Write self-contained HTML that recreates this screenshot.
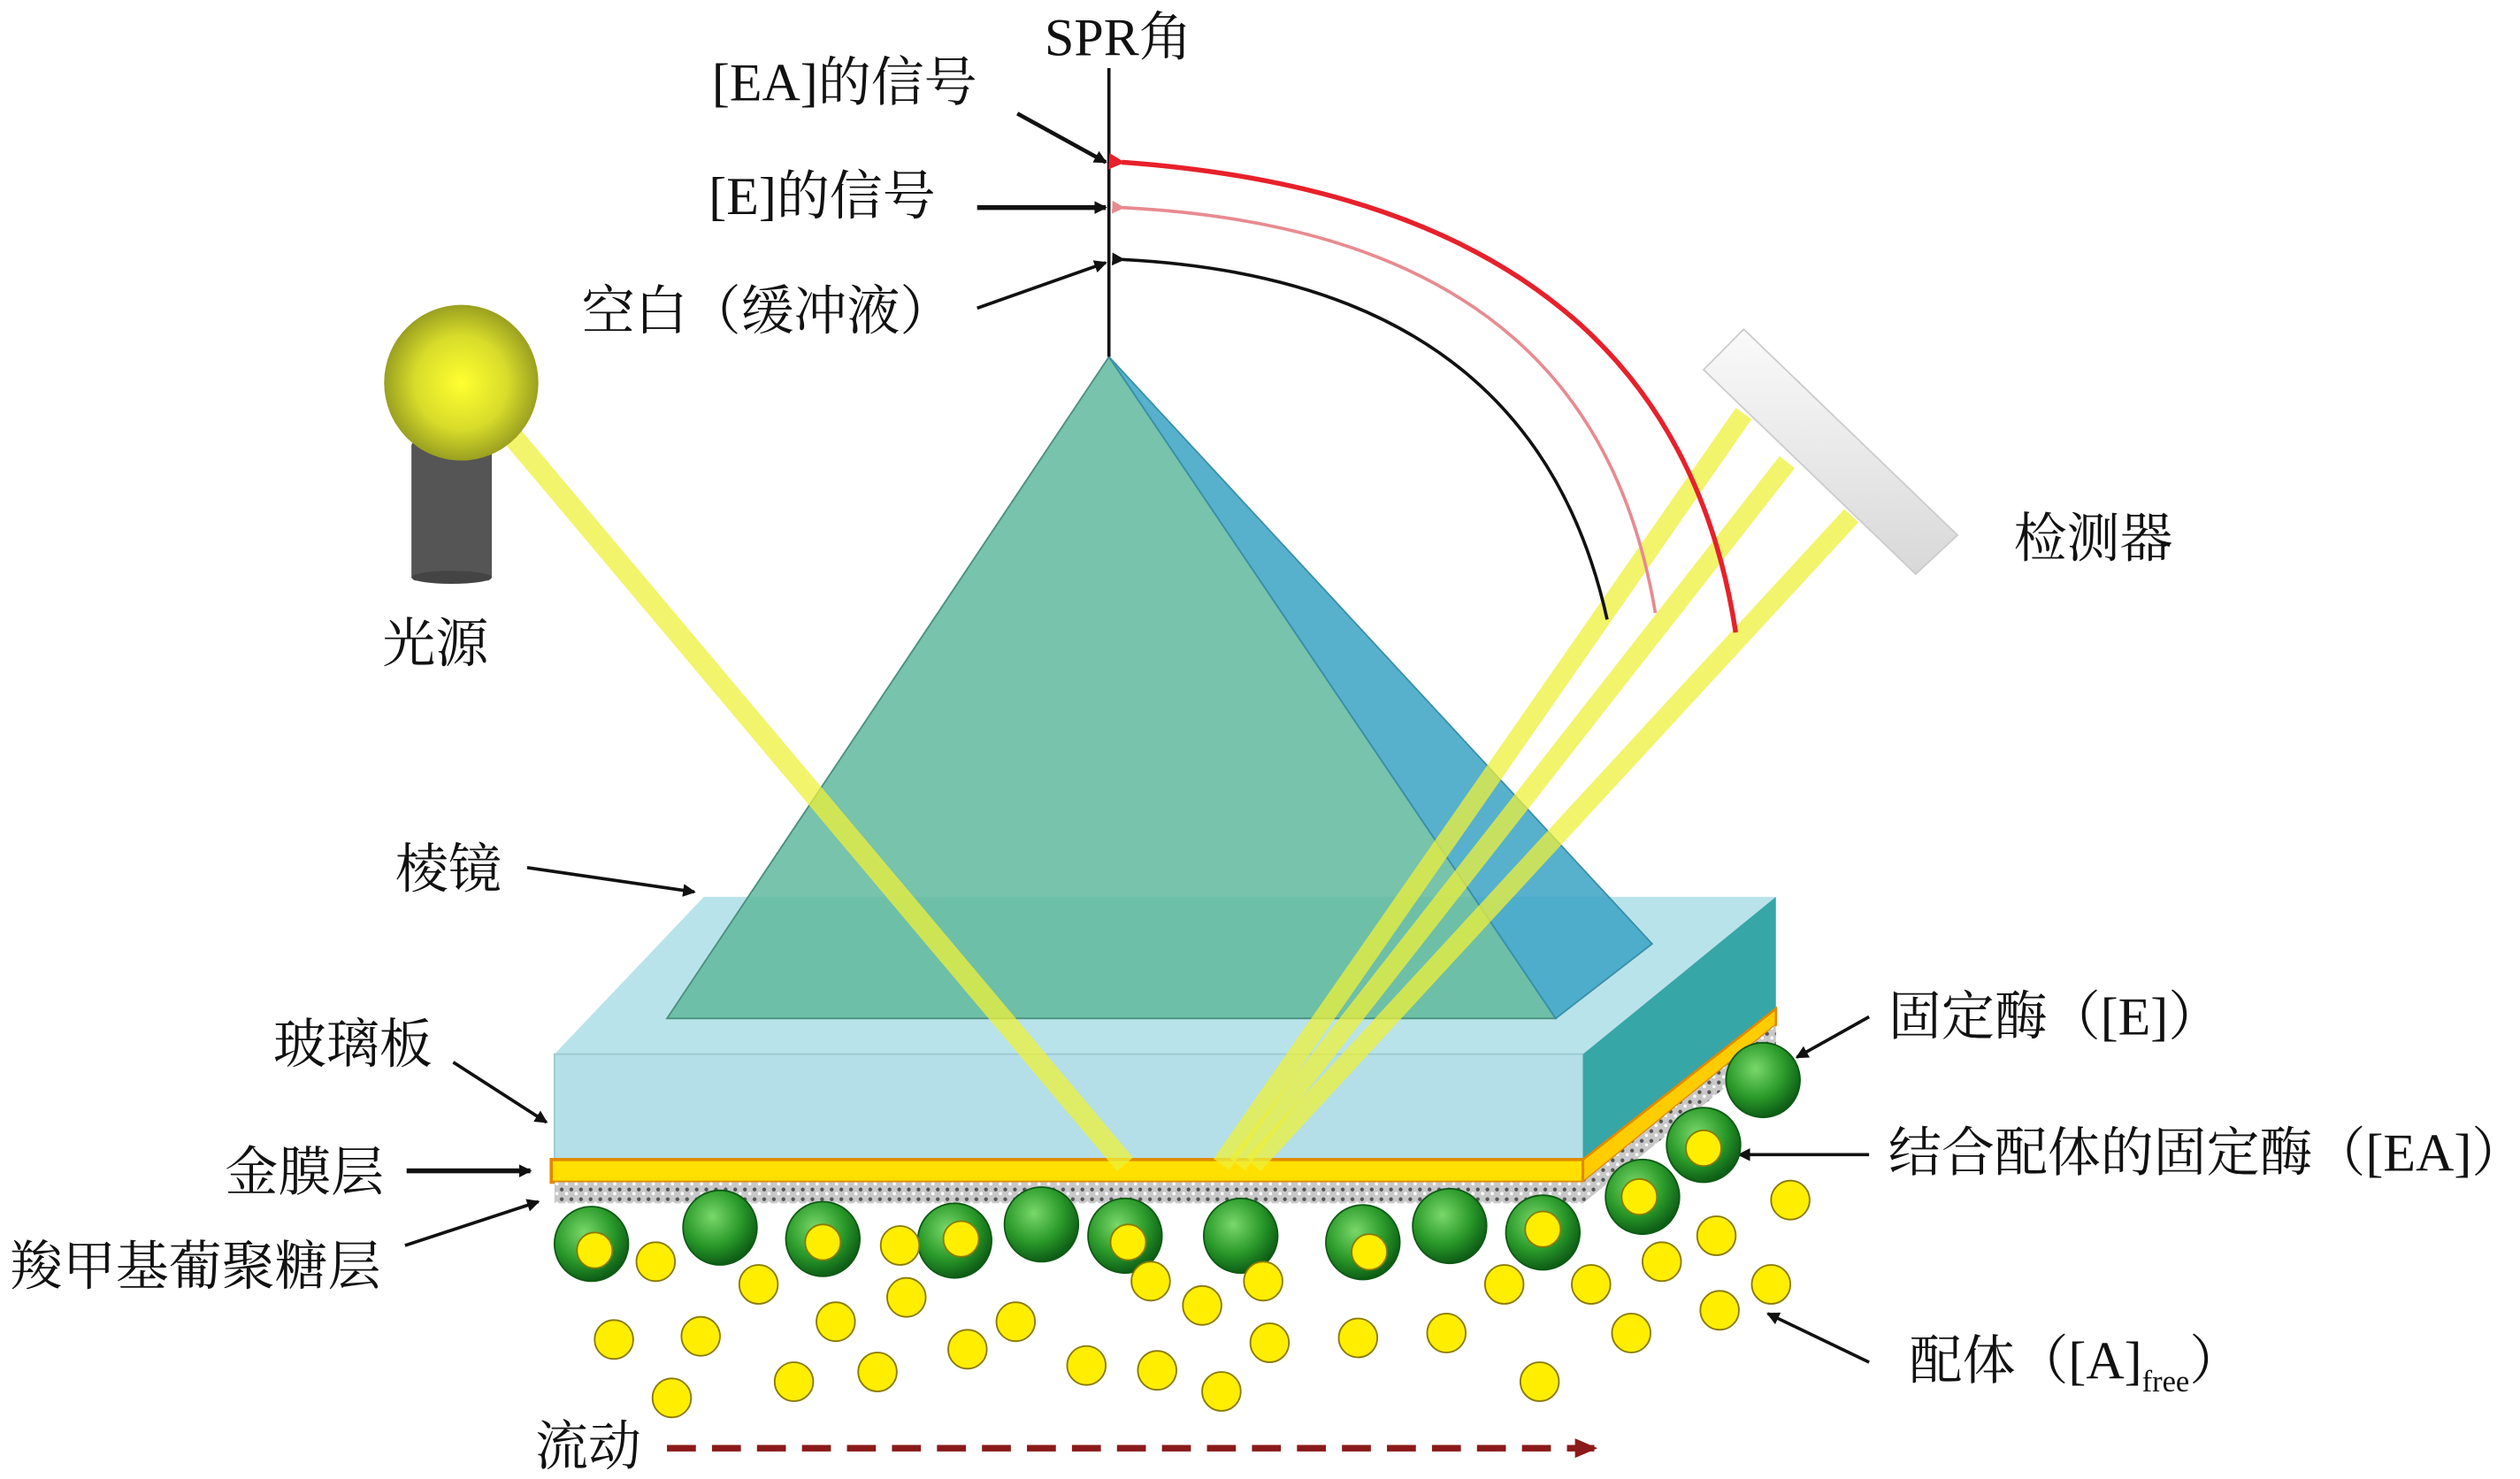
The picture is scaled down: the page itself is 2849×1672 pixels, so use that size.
<!DOCTYPE html>
<html><head><meta charset="utf-8">
<style>
html,body{margin:0;padding:0;background:#fff;}
svg{display:block;}
text{font-family:"Liberation Serif","Noto Serif CJK SC","Noto Sans CJK SC",serif;fill:#111;}
</style></head>
<body>
<svg width="2849" height="1672" viewBox="0 0 1568 912" preserveAspectRatio="none" xmlns="http://www.w3.org/2000/svg">
<defs>
<radialGradient id="bulb" cx="50%" cy="50%" r="50%">
<stop offset="0" stop-color="#ffff30"/><stop offset="0.6" stop-color="#d8dc2a"/><stop offset="1" stop-color="#9aa020"/>
</radialGradient>
<radialGradient id="gs" cx="40%" cy="35%" r="65%">
<stop offset="0" stop-color="#7ad86a"/><stop offset="0.6" stop-color="#2a9a2a"/><stop offset="1" stop-color="#0e5e16"/>
</radialGradient>
<linearGradient id="det" x1="0" y1="0" x2="0" y2="1">
<stop offset="0" stop-color="#fafafa"/><stop offset="1" stop-color="#d8d8d8"/>
</linearGradient>
<pattern id="speck" width="6" height="6" patternUnits="userSpaceOnUse">
<rect width="6" height="6" fill="#c8c8c8"/><circle cx="1.5" cy="1.5" r="1.2" fill="#555"/><circle cx="4.5" cy="4" r="1" fill="#fff"/>
</pattern>
<marker id="ah" markerWidth="8" markerHeight="8" refX="7" refY="4" orient="auto" markerUnits="userSpaceOnUse"><path d="M0,0 L8,4 L0,8 z" fill="#111"/></marker>
<marker id="ahr" markerWidth="10" markerHeight="10" refX="2" refY="5" orient="auto" markerUnits="userSpaceOnUse"><path d="M10,0 L0,5 L10,10 z" fill="#e8202a"/></marker>
<marker id="ahp" markerWidth="8" markerHeight="8" refX="2" refY="4" orient="auto" markerUnits="userSpaceOnUse"><path d="M8,0 L0,4 L8,8 z" fill="#e88a90"/></marker>
<marker id="ahk" markerWidth="8" markerHeight="8" refX="2" refY="4" orient="auto" markerUnits="userSpaceOnUse"><path d="M8,0 L0,4 L8,8 z" fill="#111"/></marker>
<marker id="ahd" markerWidth="14" markerHeight="12" refX="12" refY="6" orient="auto" markerUnits="userSpaceOnUse"><path d="M0,0 L14,6 L0,12 z" fill="#8b1a1a"/></marker>
</defs>

<polygon points="345,650 438,553 1105,553 985,650" fill="#b9e3ea"/>
<rect x="345" y="650" width="640" height="65" fill="#b4dfe8" stroke="#9cc9d2" stroke-width="1"/>
<polygon points="985,650 1105,553 1105,622 985,715" fill="#36a6a6"/>
<rect x="343" y="715" width="642" height="14" fill="#ffe000" stroke="#e08a00" stroke-width="2"/>
<polygon points="985,715 1105,622 1105,632 985,729" fill="#ffcc00" stroke="#e08a00" stroke-width="1.5"/>
<rect x="345" y="729" width="640" height="13" fill="url(#speck)"/>
<polygon points="985,729 1105,632 1105,645 985,742" fill="url(#speck)"/>

<polygon points="690,220 415,628 968,628" fill="#5fb99c" fill-opacity="0.85" stroke="#4a8f80" stroke-width="1"/>
<polygon points="690,220 1028,582 968,628" fill="#3aa3c4" fill-opacity="0.85" stroke="#3a8fa8" stroke-width="1"/>

<line x1="318" y1="268" x2="700" y2="718" stroke="#eef03a" stroke-width="13" stroke-opacity="0.75"/>
<line x1="760" y1="718" x2="1085" y2="255" stroke="#eef03a" stroke-width="12" stroke-opacity="0.75"/>
<line x1="770" y1="718" x2="1112" y2="285" stroke="#eef03a" stroke-width="12" stroke-opacity="0.75"/>
<line x1="780" y1="718" x2="1152" y2="318" stroke="#eef03a" stroke-width="12" stroke-opacity="0.75"/>

<polygon points="1060,228 1085,203 1218,330 1192,354" fill="url(#det)" stroke="#ccc" stroke-width="1"/>

<rect x="256" y="272" width="50" height="86" rx="3" fill="#555"/>
<ellipse cx="281" cy="356" rx="25" ry="4" fill="#444"/>
<circle cx="287" cy="236" r="48" fill="url(#bulb)"/>

<line x1="690" y1="42" x2="690" y2="220" stroke="#111" stroke-width="2"/>
<text x="650" y="34" font-size="33">SPR角</text>

<path d="M1080,390 C1060,260 980,120 698,100" fill="none" stroke="#e8202a" stroke-width="3" marker-end="url(#ahr)"/>
<path d="M1030,378 C1010,260 940,140 698,128" fill="none" stroke="#e88a90" stroke-width="2" marker-end="url(#ahp)"/>
<path d="M1000,382 C975,270 900,170 698,160" fill="none" stroke="#111" stroke-width="2" marker-end="url(#ahk)"/>

<text x="443" y="62" font-size="33">[EA]的信号</text>
<line x1="633" y1="70" x2="688" y2="100" stroke="#111" stroke-width="2.5" marker-end="url(#ah)"/>
<text x="441" y="132" font-size="33">[E]的信号</text>
<line x1="608" y1="128" x2="688" y2="128" stroke="#111" stroke-width="3" marker-end="url(#ah)"/>
<text x="362" y="203" font-size="33">空白（缓冲液）</text>
<line x1="608" y1="190" x2="688" y2="162" stroke="#111" stroke-width="2" marker-end="url(#ah)"/>

<text x="238" y="408" font-size="33">光源</text>
<text x="1253" y="343" font-size="33">检测器</text>
<text x="246" y="547" font-size="33">棱镜</text>
<line x1="328" y1="535" x2="432" y2="550" stroke="#111" stroke-width="2" marker-end="url(#ah)"/>
<text x="170" y="655" font-size="33">玻璃板</text>
<line x1="282" y1="655" x2="340" y2="692" stroke="#111" stroke-width="2" marker-end="url(#ah)"/>
<text x="140" y="734" font-size="33">金膜层</text>
<line x1="253" y1="722" x2="330" y2="722" stroke="#111" stroke-width="3" marker-end="url(#ah)"/>
<text x="6" y="792" font-size="33">羧甲基葡聚糖层</text>
<line x1="252" y1="768" x2="335" y2="741" stroke="#111" stroke-width="2" marker-end="url(#ah)"/>

<text x="1175" y="638" font-size="33">固定酶（[E]）</text>
<line x1="1163" y1="627" x2="1118" y2="652" stroke="#111" stroke-width="2" marker-end="url(#ah)"/>
<text x="1175" y="722" font-size="33">结合配体的固定酶（[EA]）</text>
<line x1="1163" y1="712" x2="1082" y2="712" stroke="#111" stroke-width="2" marker-end="url(#ah)"/>
<text x="1188" y="850" font-size="33">配体（[A]<tspan font-size="19" dy="8">free</tspan><tspan dy="-8">）</tspan></text>
<line x1="1163" y1="840" x2="1100" y2="810" stroke="#111" stroke-width="2" marker-end="url(#ah)"/>

<text x="333" y="903" font-size="33">流动</text>
<line x1="415" y1="893" x2="992" y2="893" stroke="#8b1a1a" stroke-width="4" stroke-dasharray="18,10" marker-end="url(#ahd)"/>

<g stroke="#0d5a14" stroke-width="1">
<circle cx="368" cy="767" r="23" fill="url(#gs)"/>
<circle cx="448" cy="757" r="23" fill="url(#gs)"/>
<circle cx="512" cy="764" r="23" fill="url(#gs)"/>
<circle cx="594" cy="765" r="23" fill="url(#gs)"/>
<circle cx="648" cy="755" r="23" fill="url(#gs)"/>
<circle cx="700" cy="762" r="23" fill="url(#gs)"/>
<circle cx="772" cy="762" r="23" fill="url(#gs)"/>
<circle cx="848" cy="766" r="23" fill="url(#gs)"/>
<circle cx="902" cy="756" r="23" fill="url(#gs)"/>
<circle cx="960" cy="760" r="23" fill="url(#gs)"/>
<circle cx="1022" cy="738" r="23" fill="url(#gs)"/>
<circle cx="1060" cy="706" r="23" fill="url(#gs)"/>
<circle cx="1097" cy="666" r="23" fill="url(#gs)"/>
</g>
<g fill="#ffee00" stroke="#8a7a00" stroke-width="1">
<circle cx="370" cy="771" r="11"/><circle cx="512" cy="766" r="11"/><circle cx="598" cy="764" r="11"/>
<circle cx="702" cy="766" r="11"/><circle cx="852" cy="772" r="11"/><circle cx="960" cy="758" r="11"/>
<circle cx="1020" cy="738" r="11"/><circle cx="1060" cy="708" r="11"/>
<circle cx="408" cy="778" r="12"/><circle cx="472" cy="792" r="12"/><circle cx="560" cy="768" r="12"/>
<circle cx="382" cy="826" r="12"/><circle cx="436" cy="824" r="12"/><circle cx="520" cy="815" r="12"/>
<circle cx="564" cy="800" r="12"/><circle cx="546" cy="846" r="12"/><circle cx="494" cy="852" r="12"/>
<circle cx="418" cy="862" r="12"/><circle cx="602" cy="832" r="12"/><circle cx="632" cy="815" r="12"/>
<circle cx="676" cy="842" r="12"/><circle cx="720" cy="845" r="12"/><circle cx="760" cy="858" r="12"/>
<circle cx="748" cy="805" r="12"/><circle cx="716" cy="790" r="12"/><circle cx="786" cy="790" r="12"/>
<circle cx="790" cy="828" r="12"/><circle cx="845" cy="825" r="12"/><circle cx="900" cy="822" r="12"/>
<circle cx="936" cy="792" r="12"/><circle cx="990" cy="792" r="12"/><circle cx="1034" cy="778" r="12"/>
<circle cx="1068" cy="762" r="12"/><circle cx="1114" cy="740" r="12"/><circle cx="1102" cy="792" r="12"/>
<circle cx="1070" cy="808" r="12"/><circle cx="1015" cy="822" r="12"/><circle cx="958" cy="852" r="12"/>
</g>
</svg>
</body></html>
